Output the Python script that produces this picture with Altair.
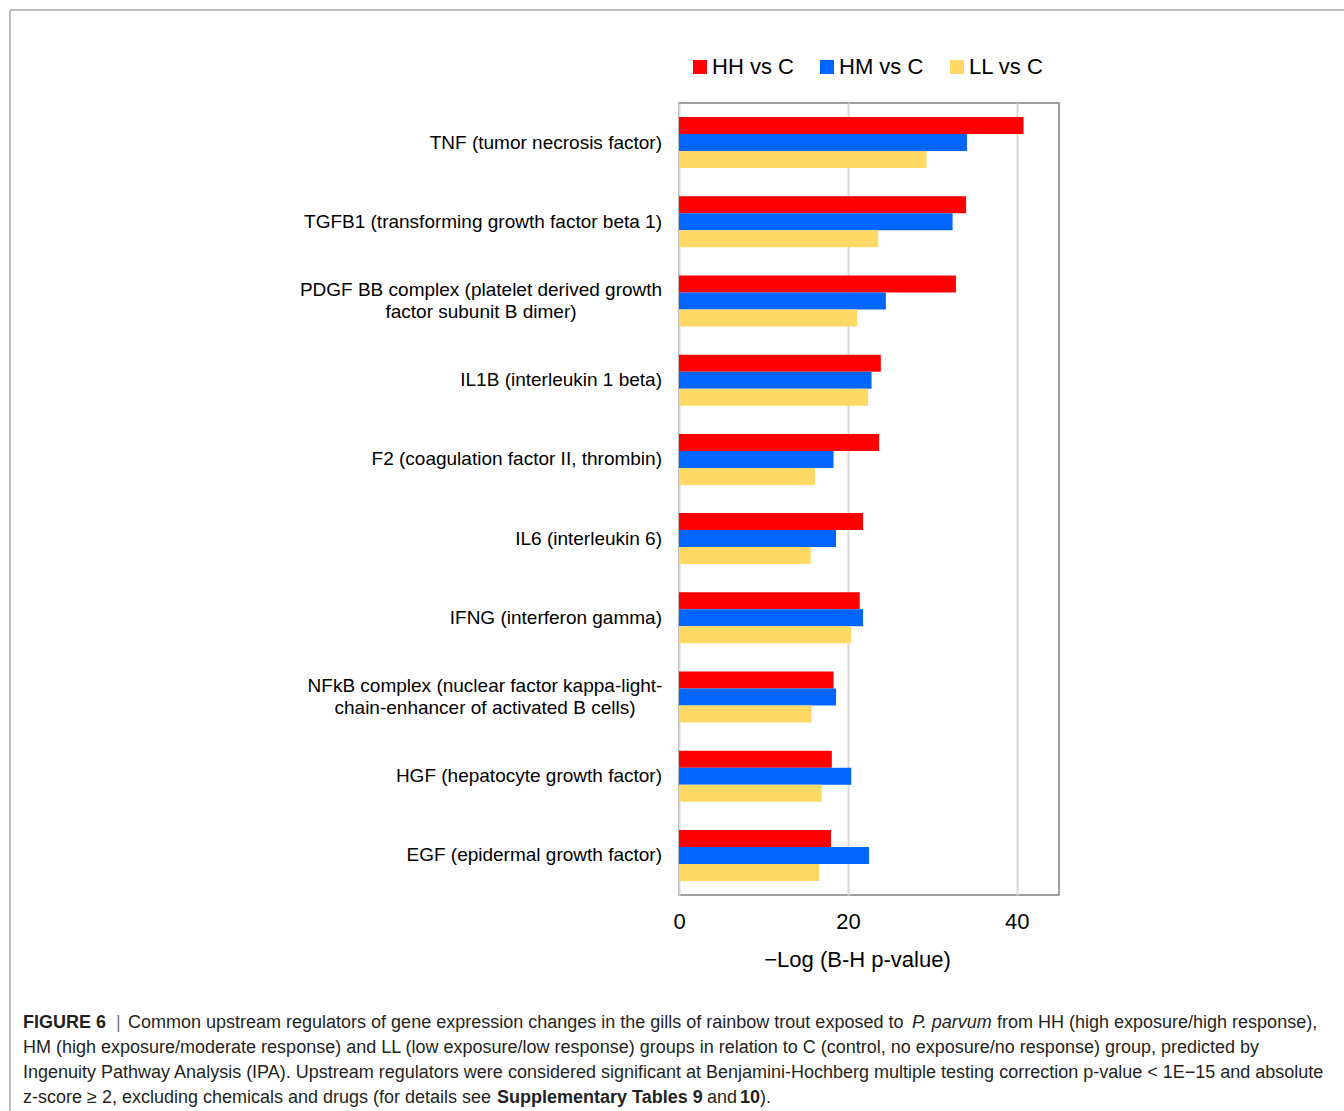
import altair as alt
import pandas as pd

# Upstream regulators (top to bottom); "\n" marks a line break in the label
regulators = [
    "TNF (tumor necrosis factor)",
    "TGFB1 (transforming growth factor beta 1)",
    "PDGF BB complex (platelet derived growth\nfactor subunit B dimer)",
    "IL1B (interleukin 1 beta)",
    "F2 (coagulation factor II, thrombin)",
    "IL6 (interleukin 6)",
    "IFNG (interferon gamma)",
    "NFkB complex (nuclear factor kappa-light-\nchain-enhancer of activated B cells)",
    "HGF (hepatocyte growth factor)",
    "EGF (epidermal growth factor)",
]

groups = ["HH vs C", "HM vs C", "LL vs C"]
group_colors = ["#ff0000", "#0066ff", "#ffd966"]

# -Log (B-H p-value) per regulator
hh_vs_c = [40.8, 34.0, 32.8, 23.9, 23.7, 21.8, 21.4, 18.3, 18.1, 18.0]
hm_vs_c = [34.1, 32.4, 24.5, 22.8, 18.3, 18.6, 21.8, 18.6, 20.4, 22.5]
ll_vs_c = [29.3, 23.6, 21.1, 22.4, 16.1, 15.6, 20.4, 15.7, 16.9, 16.6]

x_ticks = [0, 20, 40]

rows = []
for g, vals in zip(groups, [hh_vs_c, hm_vs_c, ll_vs_c]):
    for r, v in zip(regulators, vals):
        rows.append({"regulator": r, "group": g, "value": v})
df = pd.DataFrame(rows)

labels_df = pd.DataFrame({"regulator": regulators})

FONT = "Liberation Sans"
W, H = 380, 792
LEFT, TOP = 679, 103
RIGHT, BOTTOM = 1344 - LEFT - W, 1111 - TOP - H
LABEL_GAP = 17
LABEL_SIZE = 19

y_enc = alt.Y(
    "regulator:N",
    sort=regulators,
    scale=alt.Scale(paddingInner=0.356, paddingOuter=0.178),
    axis=None,
)

bars = alt.Chart(df).mark_bar(stroke=None).encode(
    x=alt.X(
        "value:Q",
        scale=alt.Scale(domain=[0, 45], nice=False),
        axis=alt.Axis(
            values=x_ticks,
            grid=True,
            gridColor="#d9d9d9",
            gridWidth=2,
            ticks=False,
            domain=False,
            labelFlush=False,
            labelFontSize=22,
            labelPadding=16,
            labelColor="#000000",
            labelFont=FONT,
            title="\u2212Log (B-H p-value)",
            titleFont=FONT,
            titleFontSize=22,
            titleFontWeight="normal",
            titleColor="#000000",
            titlePadding=17,
            titleX=178,
            titleAlign="center",
        ),
    ),
    y=y_enc,
    yOffset=alt.YOffset("group:N", sort=groups, scale=alt.Scale(paddingInner=0, paddingOuter=0)),
    color=alt.Color(
        "group:N",
        sort=groups,
        scale=alt.Scale(domain=groups, range=group_colors),
        legend=alt.Legend(
            title=None,
            orient="none",
            legendX=10,
            legendY=-47,
            direction="horizontal",
            symbolType="square",
            symbolSize=196,
            symbolStrokeWidth=0,
            labelFont=FONT,
            labelFontSize=22,
            labelColor="#000000",
            labelOffset=1,
            columnPadding=22,
        ),
    ),
)

# Regulator names, right-aligned against the plot frame
single_labels = alt.Chart(labels_df).transform_filter(
    "indexof(datum.regulator, '\\n') < 0"
).mark_text(
    align="right", baseline="middle", dx=-LABEL_GAP, font=FONT, fontSize=LABEL_SIZE, color="#000000"
).encode(x=alt.value(0), y=y_enc, text="regulator:N")

# Two-line names: both lines centred on each other, block right edge on the frame gap
two_line_layers = []
for name, half_width in [(regulators[2], 181), (regulators[7], 177)]:
    for idx, dy in [(0, -11), (1, 11)]:
        two_line_layers.append(
            alt.Chart(labels_df).transform_filter(
                alt.FieldEqualPredicate(field="regulator", equal=name)
            ).transform_calculate(
                line=f"split(datum.regulator, '\\n')[{idx}]"
            ).mark_text(
                align="center", baseline="middle", dx=-(LABEL_GAP + half_width), dy=dy,
                font=FONT, fontSize=LABEL_SIZE, color="#000000",
            ).encode(x=alt.value(0), y=y_enc, text="line:N")
        )

one = pd.DataFrame({"k": [0]})

# Outer frame of the figure panel (top and left edges)
frame_top = alt.Chart(one).mark_rule(color="#a8a8a8", strokeWidth=1.5).encode(
    x=alt.value(10 - LEFT), x2=alt.value(1344 - LEFT), y=alt.value(10 - TOP)
)
frame_left = alt.Chart(one).mark_rule(color="#a8a8a8", strokeWidth=1.5).encode(
    x=alt.value(10 - LEFT), y=alt.value(10 - TOP), y2=alt.value(1111 - TOP)
)

# Caption, one text mark per styled run
CAP_SIZE = 18
cap_lines_y = [1023, 1048, 1073, 1098]
caption_runs = [
    (0, 23, "FIGURE 6", "bold", "normal", "#231f20"),
    (0, 116, "|", "normal", "normal", "#777777"),
    (0, 128, "Common upstream regulators of gene expression changes in the gills of rainbow trout exposed to", "normal", "normal", "#231f20"),
    (0, 912, "P. parvum", "normal", "italic", "#231f20"),
    (0, 997, "from HH (high exposure/high response),", "normal", "normal", "#231f20"),
    (1, 23, "HM (high exposure/moderate response) and LL (low exposure/low response) groups in relation to C (control, no exposure/no response) group, predicted by", "normal", "normal", "#231f20"),
    (2, 23, "Ingenuity Pathway Analysis (IPA). Upstream regulators were considered significant at Benjamini-Hochberg multiple testing correction p-value < 1E\u221215 and absolute", "normal", "normal", "#231f20"),
    (3, 23, "z-score \u2265 2, excluding chemicals and drugs (for details see", "normal", "normal", "#231f20"),
    (3, 497, "Supplementary Tables 9", "bold", "normal", "#231f20"),
    (3, 707, "and", "normal", "normal", "#231f20"),
    (3, 740, "10", "bold", "normal", "#231f20"),
    (3, 760, ").", "normal", "normal", "#231f20"),
]

caption_layers = []
for line, x0, txt, weight, style, col in caption_runs:
    caption_layers.append(
        alt.Chart(one).mark_text(
            align="left",
            baseline="middle",
            font=FONT,
            fontSize=CAP_SIZE,
            fontWeight=weight,
            fontStyle=style,
            color=col,
        ).encode(
            x=alt.value(x0 - LEFT),
            y=alt.value(cap_lines_y[line] - TOP),
            text=alt.value(txt),
        )
    )

chart = alt.layer(
    bars, single_labels, *two_line_layers, frame_top, frame_left, *caption_layers
).properties(
    width=W,
    height=H,
    autosize=alt.AutoSizeParams(type="none"),
    padding={"left": LEFT, "top": TOP, "right": RIGHT, "bottom": BOTTOM},
    background="#ffffff",
).configure_view(
    stroke="#808080", strokeWidth=1.5
)

chart.save("out.html", embed_options={"renderer": "svg", "actions": False})
